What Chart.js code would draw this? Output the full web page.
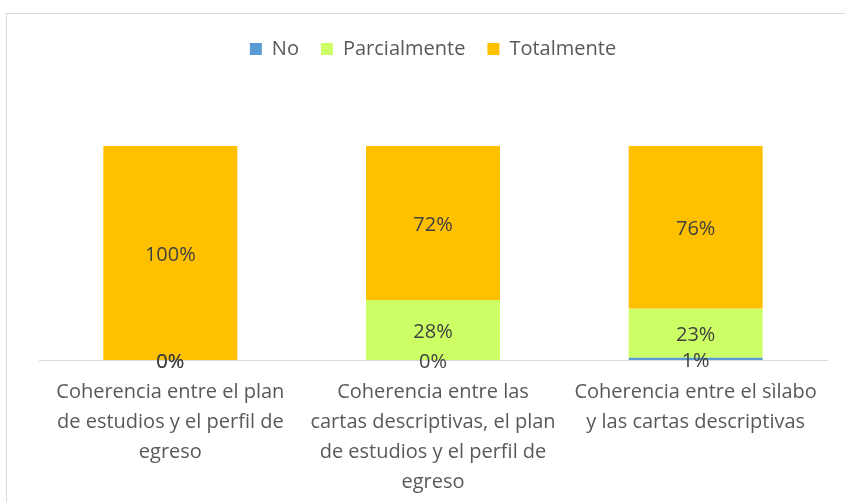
<!DOCTYPE html>
<html>
<head>
<meta charset="utf-8">
<script src="https://cdn.jsdelivr.net/npm/chart.js@4"></script>
<style>
  html, body { margin: 0; padding: 0; background: #fff; }
  #wrap { position: relative; width: 845px; height: 502px; overflow: hidden; }
  #frame { position: absolute; left: 6px; top: 13px; width: 900px; height: 600px; border: 1px solid #d9d9d9; }
  canvas { position: absolute; left: 0; top: 0; }
</style>
</head>
<body>
<div id="wrap">
  <div id="frame"></div>
  <canvas id="chart" width="845" height="502"></canvas>
</div>
<script>
const categories = [
    ['Coherencia entre el plan', 'de estudios y el perfil de', 'egreso'],
    ['Coherencia entre las', 'cartas descriptivas, el plan', 'de estudios y el perfil de', 'egreso'],
    ['Coherencia entre el sìlabo', 'y las cartas descriptivas']
];
const no = [0, 0, 1];
const parcialmente = [0, 28, 23];
const totalmente = [100, 72, 76];

const fontFamily = "'Open Sans', sans-serif";

// etiquetas de valor dentro de las barras
const valueLabels = {
    id: 'valueLabels',
    afterDatasetsDraw(chart) {
        const ctx = chart.ctx;
        ctx.save();
        ctx.font = '20px ' + fontFamily;
        ctx.fillStyle = '#404040';
        ctx.textAlign = 'center';
        ctx.textBaseline = 'middle';
        chart.data.datasets.forEach((ds, i) => {
            const meta = chart.getDatasetMeta(i);
            meta.data.forEach((bar, j) => {
                const y = (bar.y + bar.base) / 2;
                ctx.fillText(ds.data[j] + '%', bar.x, y + 2);
            });
        });
        ctx.restore();
    }
};

const legendSpace = {
    id: 'legendSpace',
    beforeInit(chart) {
        const fit = chart.legend.fit;
        chart.legend.fit = function () {
            fit.bind(chart.legend)();
            this.height += 77;
        };
    }
};

new Chart(document.getElementById('chart').getContext('2d'), {
    type: 'bar',
    data: {
        labels: categories,
        datasets: [
            { label: 'No', data: no, backgroundColor: '#5b9bd5', barPercentage: 0.51, categoryPercentage: 1 },
            { label: 'Parcialmente', data: parcialmente, backgroundColor: '#ccff66', barPercentage: 0.51, categoryPercentage: 1 },
            { label: 'Totalmente', data: totalmente, backgroundColor: '#ffc000', barPercentage: 0.51, categoryPercentage: 1 }
        ]
    },
    plugins: [valueLabels, legendSpace],
    options: {
        responsive: false,
        animation: false,
        layout: { padding: { top: 17, left: 39, right: 18, bottom: 0 } },
        plugins: {
            tooltip: { enabled: false },
            legend: {
                position: 'top',
                labels: {
                    boxWidth: 12,
                    boxHeight: 12,
                    padding: 22,
                    color: '#595959',
                    font: { family: fontFamily, size: 20 }
                }
            }
        },
        scales: {
            x: {
                stacked: true,
                grid: { display: false, drawTicks: false },
                border: { display: true, color: '#d9d9d9', width: 1 },
                ticks: {
                    color: '#595959',
                    padding: 17,
                    maxRotation: 0,
                    autoSkip: false,
                    font: { family: fontFamily, size: 20, lineHeight: 1.5 }
                },
                afterFit(scale) { scale.height = 142; }
            },
            y: {
                stacked: true,
                display: false,
                min: 0,
                max: 100
            }
        }
    }
});
</script>
</body>
</html>
